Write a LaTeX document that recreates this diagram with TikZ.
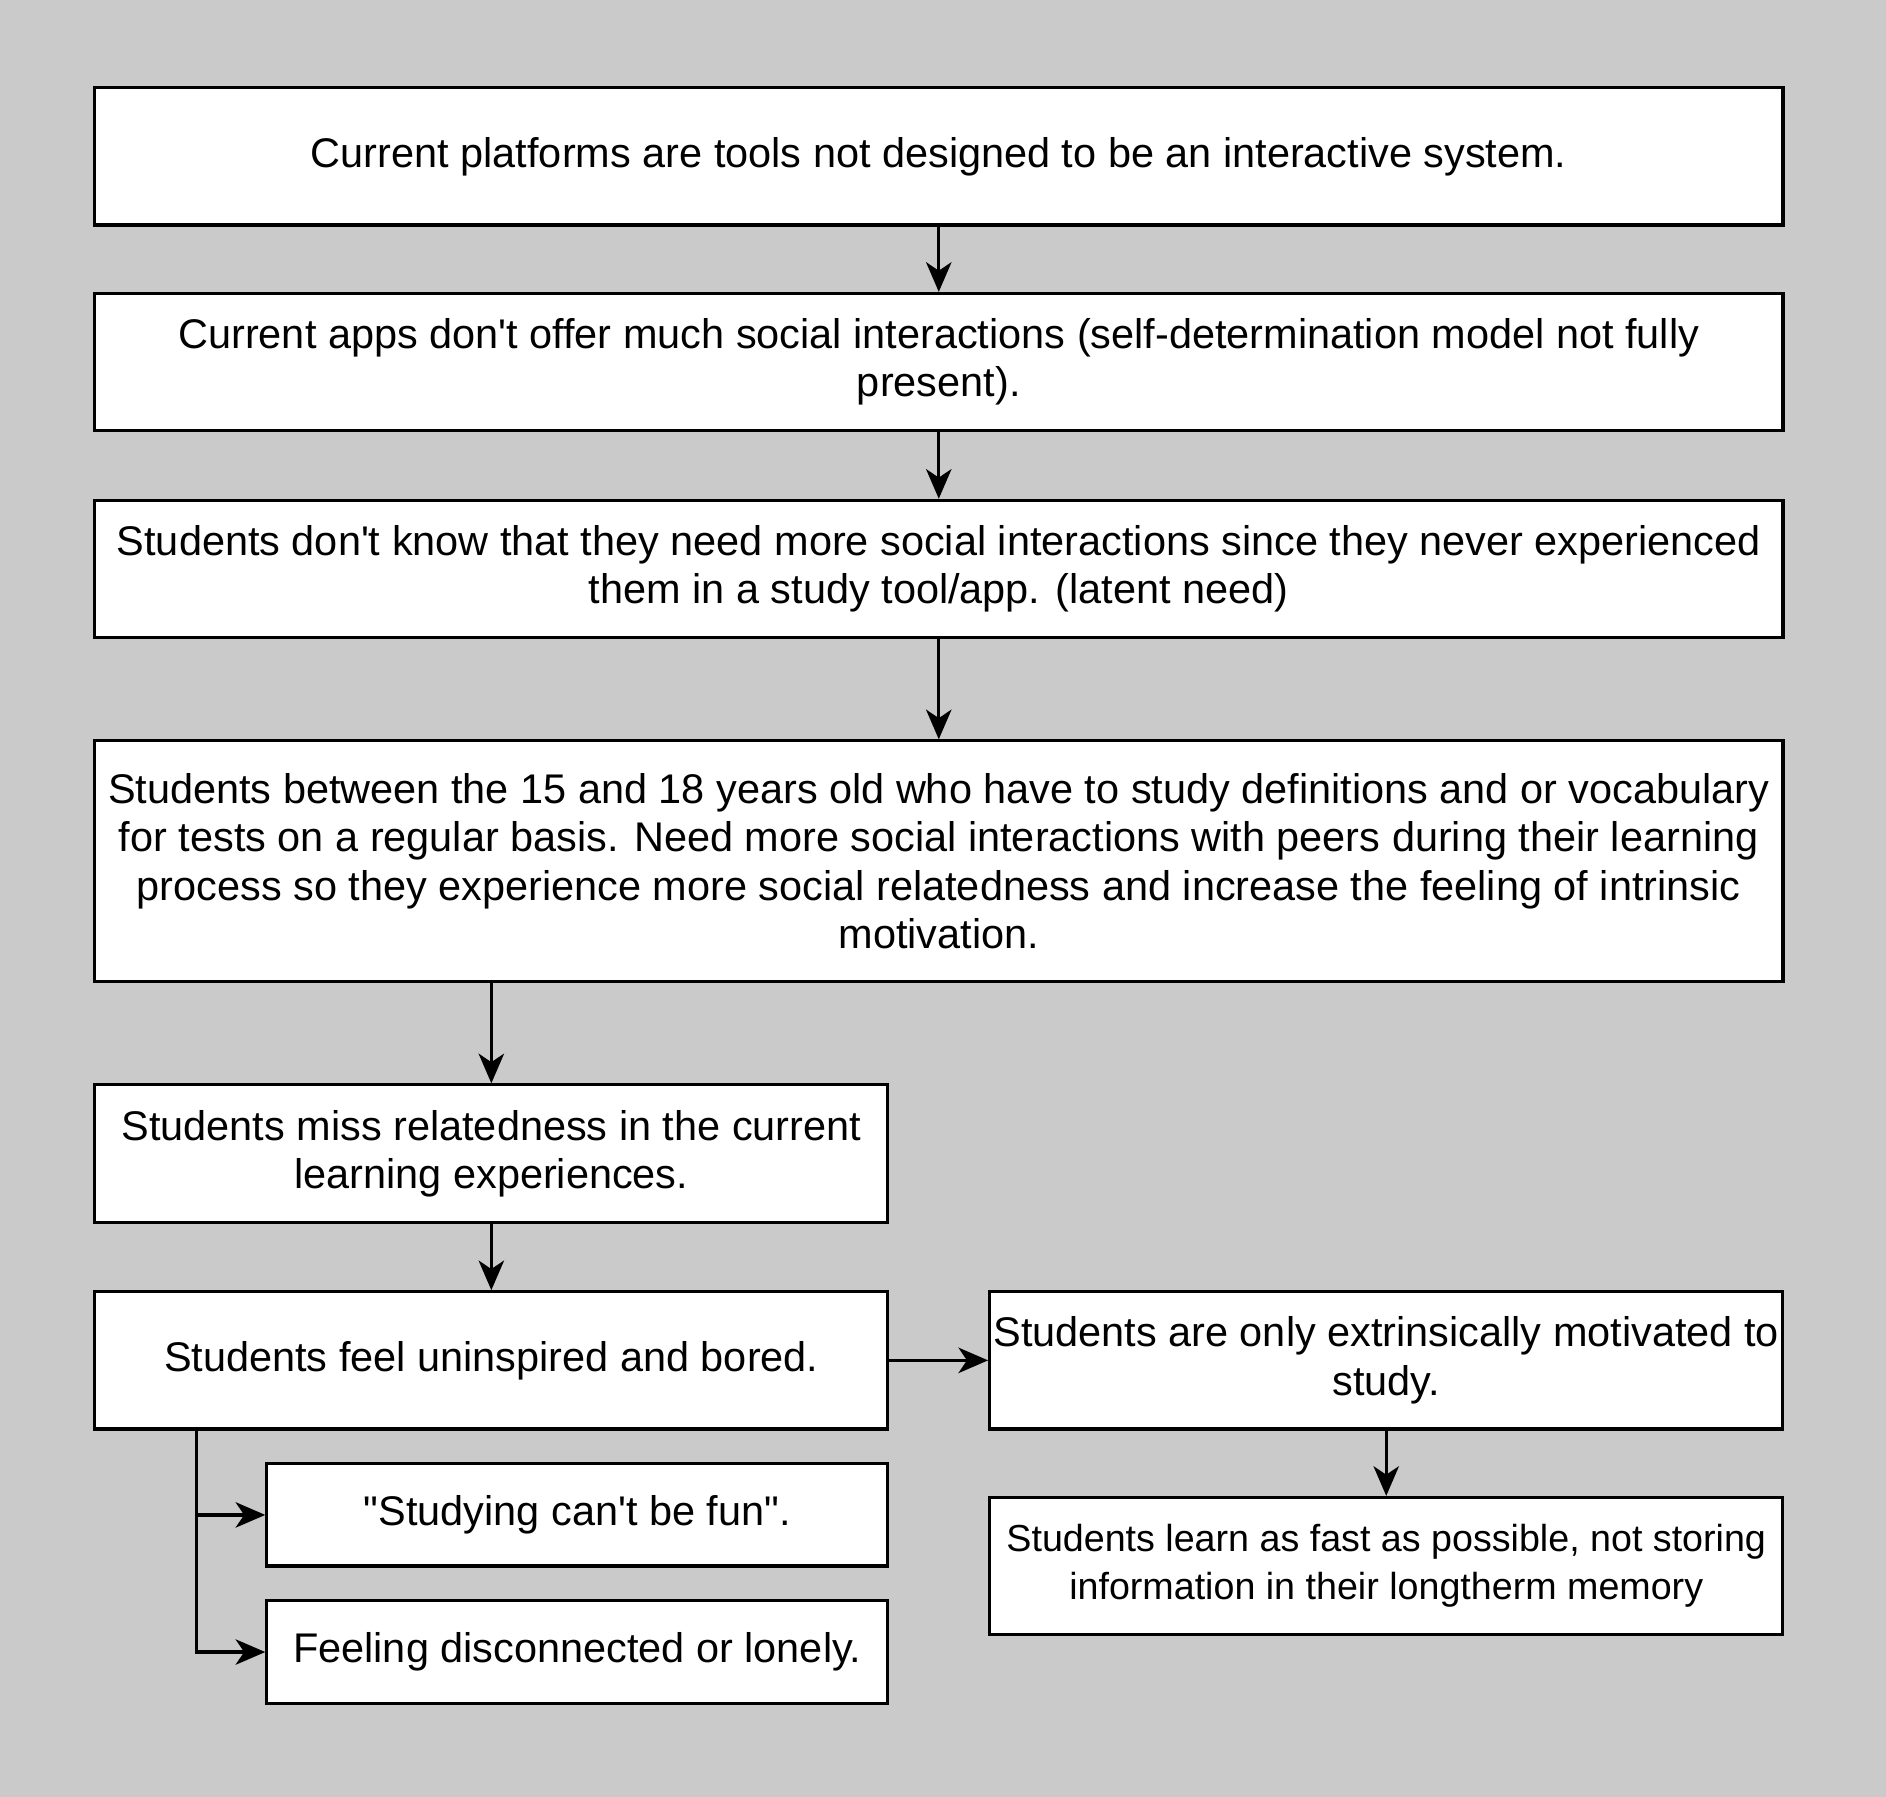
\documentclass[tikz,border=0pt]{standalone}
\usepackage{fontspec}
\newfontfamily\boxfont{Liberation Sans}
\usetikzlibrary{arrows.meta}
\definecolor{bggrey}{RGB}{202,202,202}
\begin{document}
\begin{tikzpicture}[x=0.01cm,y=-0.01cm]
\tikzstyle{box}=[draw=black,fill=white,line width=0.75pt,align=center,inner sep=0pt,font=\boxfont\fontsize{9.8}{11.4}\selectfont]
\tikzstyle{wide}=[box,minimum width=14.03cm]
\tikzstyle{half}=[box,minimum width=6.59cm,minimum height=1.14cm]
\tikzstyle{small}=[box,minimum width=5.16cm,minimum height=0.85cm]
\tikzstyle{arr}=[line width=0.75pt,-{Stealth[length=7pt,width=6pt,inset=2pt]}]
\fill[bggrey] (0,0) rectangle (1568,1494);
\node[wide,minimum height=1.14cm] (B_1) at (780.5,130) {Current platforms are tools not designed to be an interactive system.};
\node[wide,minimum height=1.14cm] (B_2) at (780.5,301) {Current apps don't offer much social interactions (self-determination model not fully\\present).};
\node[wide,minimum height=1.14cm] (B_3) at (780.5,473) {Students don't know that they need more social interactions since they never experienced\\them in a study tool/app. (latent need)};
\node[wide,minimum height=2.00cm] (B_4) at (780.5,716) {Students between the 15 and 18 years old who have to study definitions and or vocabulary\\for tests on a regular basis. Need more social interactions with peers during their learning\\process so they experience more social relatedness and increase the feeling of intrinsic\\motivation.};
\node[half] (B_5) at (408.5,959) {Students miss relatedness in the current\\learning experiences.};
\node[half] (B_6) at (408.5,1131) {Students feel uninspired and bored.};
\node[half] (B_7) at (1152.5,1131) {Students are only extrinsically motivated to\\study.};
\node[small] (B_8) at (480,1259.5) {"Studying can't be fun".};
\node[small] (B_9) at (480,1373.5) {Feeling disconnected or lonely.};
\node[half,font=\boxfont\fontsize{8.9}{11.4}\selectfont] (B_10) at (1152.5,1302) {Students learn as fast as possible, not storing\\information in their longtherm memory};
\draw[arr] (B_1) -- (B_2);
\draw[arr] (B_2) -- (B_3);
\draw[arr] (B_3) -- (B_4);
\draw[arr] (B_4.south -| B_5.north) -- (B_5);
\draw[arr] (B_5) -- (B_6);
\draw[arr] (B_6) -- (B_7);
\draw[arr] (B_7) -- (B_10);
\draw[arr] ([xshift=0.86cm]B_6.south west) |- (B_8);
\draw[arr] ([xshift=0.86cm]B_6.south west) |- (B_9);
\end{tikzpicture}
\end{document}
